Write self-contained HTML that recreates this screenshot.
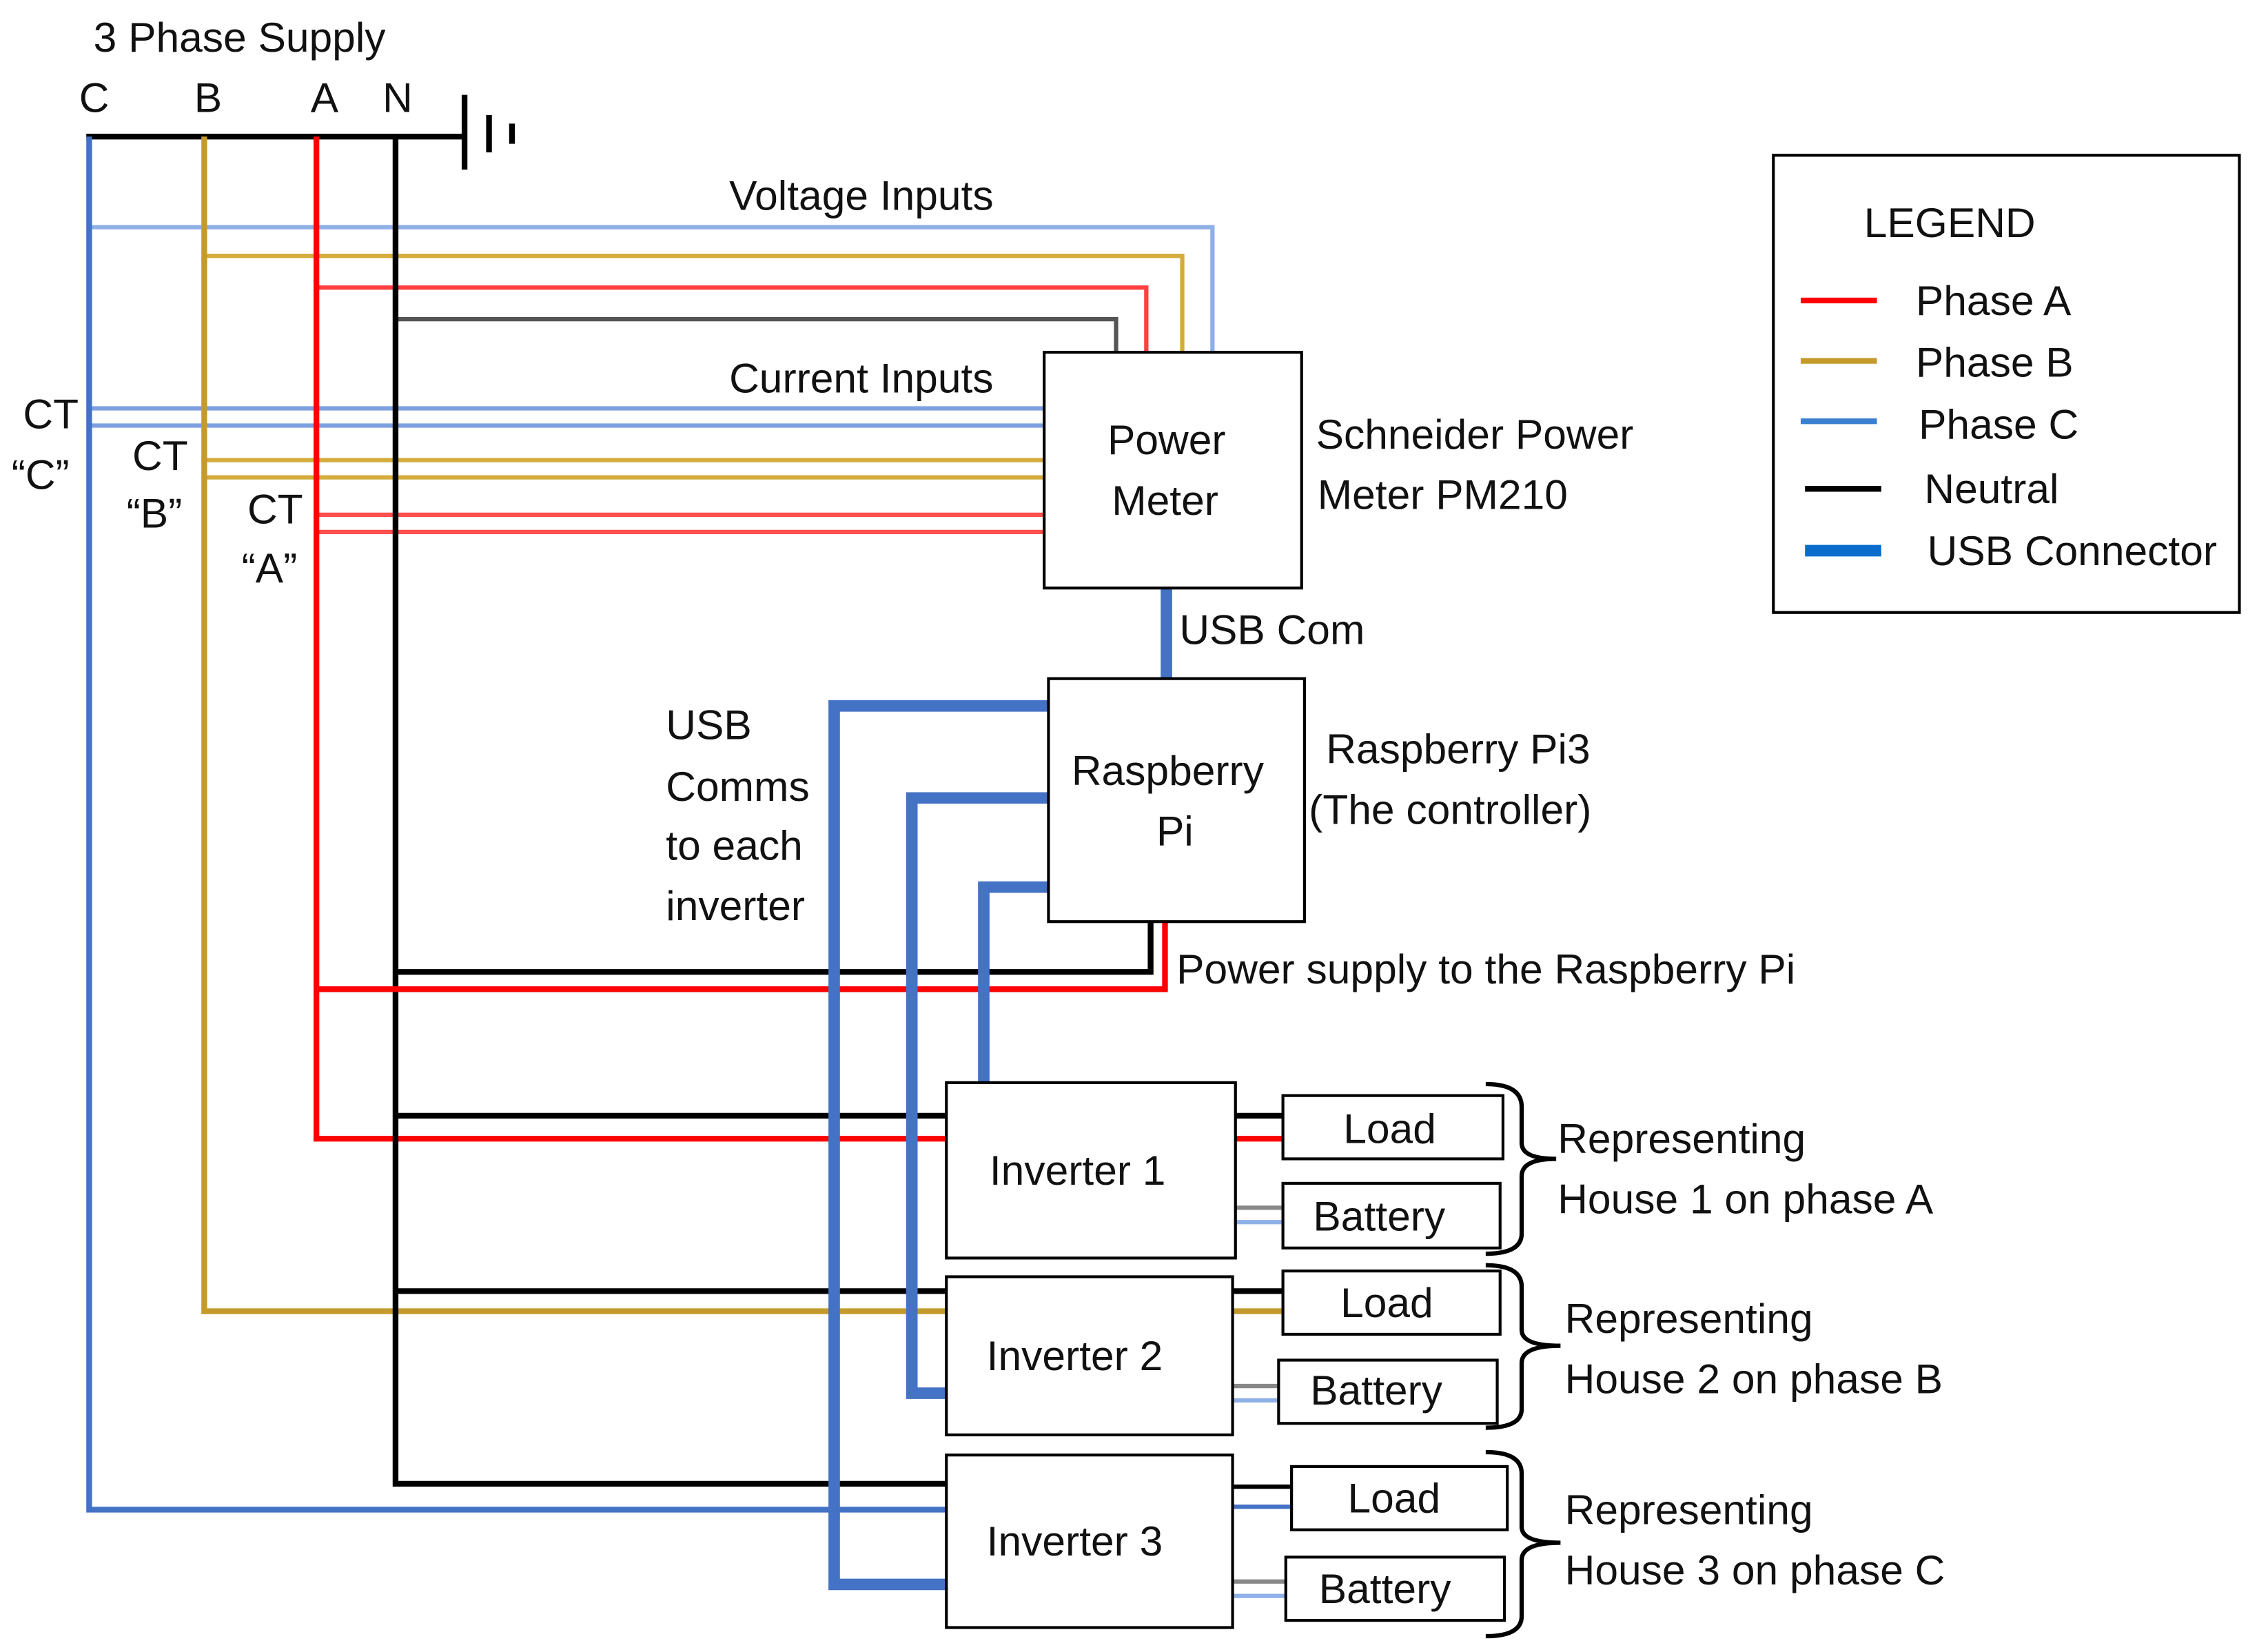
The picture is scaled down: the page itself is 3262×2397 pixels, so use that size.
<!DOCTYPE html>
<html><head><meta charset="utf-8"><style>
html,body{margin:0;padding:0;background:#fff;}
svg{display:block;}
text{font-family:"Liberation Sans",sans-serif;font-size:29px;fill:#111;}
</style></head><body>
<svg width="3262" height="2397" viewBox="0 0 1563 1149" preserveAspectRatio="none" xmlns="http://www.w3.org/2000/svg">
<rect width="1563" height="1149" fill="#fff"/>
<g fill="none" stroke-linecap="butt">
<!-- top bus -->
<line x1="60" y1="95" x2="322" y2="95" stroke="#000" stroke-width="4"/>
<line x1="323" y1="66" x2="323" y2="118" stroke="#000" stroke-width="4"/>
<line x1="340" y1="80" x2="340" y2="106" stroke="#000" stroke-width="4"/>
<line x1="356" y1="86" x2="356" y2="100" stroke="#000" stroke-width="4"/>
<!-- voltage inputs -->
<polyline points="62,158 843,158 843,245" stroke="#8fb0e6" stroke-width="3"/>
<polyline points="142,178 822,178 822,245" stroke="#d4ac3c" stroke-width="3"/>
<polyline points="220,200 797,200 797,245" stroke="#ff4040" stroke-width="3"/>
<polyline points="275,222 776,222 776,245" stroke="#555" stroke-width="3"/>
<!-- current inputs -->
<line x1="62" y1="284" x2="726" y2="284" stroke="#7fa0e0" stroke-width="3"/>
<line x1="62" y1="296" x2="726" y2="296" stroke="#7fa0e0" stroke-width="3"/>
<line x1="142" y1="320" x2="726" y2="320" stroke="#d4ac3c" stroke-width="3"/>
<line x1="142" y1="332" x2="726" y2="332" stroke="#d4ac3c" stroke-width="3"/>
<line x1="220" y1="358" x2="726" y2="358" stroke="#ff5050" stroke-width="3"/>
<line x1="220" y1="370" x2="726" y2="370" stroke="#ff5050" stroke-width="3"/>
<!-- phases -->
<polyline points="62,95 62,1050 658,1050" stroke="#4472c4" stroke-width="4"/>
<polyline points="142,95 142,912 892,912" stroke="#c49a2c" stroke-width="4"/>
<polyline points="220,95 220,792 892,792" stroke="#ff0000" stroke-width="4"/>
<polyline points="275,95 275,1032 658,1032" stroke="#000" stroke-width="4"/>
<line x1="275" y1="776" x2="892" y2="776" stroke="#000" stroke-width="4"/>
<line x1="275" y1="898" x2="892" y2="898" stroke="#000" stroke-width="4"/>
<polyline points="275,676 800,676 800,641" stroke="#000" stroke-width="4"/>
<polyline points="220,688 810,688 810,641" stroke="#ff0000" stroke-width="4"/>
<!-- inverter to battery / load 3 connectors -->
<line x1="858" y1="840" x2="892" y2="840" stroke="#888" stroke-width="3"/>
<line x1="858" y1="850" x2="892" y2="850" stroke="#8fb0e6" stroke-width="3"/>
<line x1="856" y1="964" x2="889" y2="964" stroke="#888" stroke-width="3"/>
<line x1="856" y1="974" x2="889" y2="974" stroke="#8fb0e6" stroke-width="3"/>
<line x1="856" y1="1034" x2="898" y2="1034" stroke="#000" stroke-width="3"/>
<line x1="856" y1="1048" x2="898" y2="1048" stroke="#4472c4" stroke-width="3"/>
<line x1="856" y1="1100" x2="894" y2="1100" stroke="#888" stroke-width="3"/>
<line x1="856" y1="1110" x2="894" y2="1110" stroke="#8fb0e6" stroke-width="3"/>
<!-- USB -->
<line x1="811" y1="409" x2="811" y2="472" stroke="#4472c4" stroke-width="8"/>
<polyline points="729,491 580,491 580,1102 658,1102" stroke="#4472c4" stroke-width="8"/>
<polyline points="729,555 634,555 634,969 658,969" stroke="#4472c4" stroke-width="8"/>
<polyline points="729,617 684,617 684,753" stroke="#4472c4" stroke-width="8"/>
<!-- boxes -->
<g stroke="#000" stroke-width="2" fill="#fff">
<rect x="726" y="245" width="179" height="164"/>
<rect x="729" y="472" width="178" height="169"/>
<rect x="658" y="753" width="201" height="122"/>
<rect x="658" y="888" width="199" height="110"/>
<rect x="658" y="1012" width="199" height="120"/>
<rect x="892" y="762" width="153" height="44"/>
<rect x="892" y="823" width="151" height="45"/>
<rect x="892" y="884" width="151" height="44"/>
<rect x="889" y="946" width="152" height="44"/>
<rect x="898" y="1020" width="150" height="44"/>
<rect x="894" y="1083" width="152" height="44"/>
<rect x="1233" y="108" width="324" height="318"/>
</g>
<!-- braces -->
<g stroke="#000" stroke-width="3">
<path d="M1033,754 Q1058,754 1058,770 L1058,795 Q1058,806 1082,806 Q1058,806 1058,818 L1058,858 Q1058,872 1033,872"/>
<path d="M1033,880 Q1058,880 1058,895 L1058,925 Q1058,936 1085,936 Q1058,936 1058,948 L1058,980 Q1058,993 1033,993"/>
<path d="M1033,1010 Q1058,1010 1058,1025 L1058,1062 Q1058,1073 1085,1073 Q1058,1073 1058,1085 L1058,1124 Q1058,1138 1033,1138"/>
</g>
<!-- legend lines -->
<line x1="1252" y1="209" x2="1305" y2="209" stroke="#ff0000" stroke-width="4"/>
<line x1="1252" y1="251" x2="1305" y2="251" stroke="#c49a2c" stroke-width="4"/>
<line x1="1252" y1="293" x2="1305" y2="293" stroke="#3a7fd0" stroke-width="4"/>
<line x1="1255" y1="340" x2="1308" y2="340" stroke="#000" stroke-width="4"/>
<line x1="1255" y1="383" x2="1308" y2="383" stroke="#0a6ccc" stroke-width="8"/>
</g>
<text x="65" y="36">3 Phase Supply</text>
<text x="55" y="78">C</text><text x="135" y="78">B</text><text x="216" y="78">A</text><text x="266" y="78">N</text>
<text x="507" y="146">Voltage Inputs</text>
<text x="507" y="273">Current Inputs</text>
<text x="16" y="298">CT</text><text x="8" y="340">“C”</text>
<text x="92" y="327">CT</text><text x="88" y="367">“B”</text>
<text x="172" y="364">CT</text><text x="168" y="405">“A”</text>
<text x="770" y="316">Power</text><text x="773" y="358">Meter</text>
<text x="915" y="312">Schneider Power</text><text x="916" y="354">Meter  PM210</text>
<text x="820" y="448">USB Com</text>
<text x="745" y="546">Raspberry</text><text x="804" y="588">Pi</text>
<text x="922" y="531">Raspberry Pi3</text><text x="910" y="573">(The controller)</text>
<text x="463" y="514">USB</text><text x="463" y="557">Comms</text><text x="463" y="598">to each</text><text x="463" y="640">inverter</text>
<text x="818" y="684">Power supply to the Raspberry Pi</text>
<text x="688" y="824">Inverter 1</text><text x="686" y="953">Inverter 2</text><text x="686" y="1082">Inverter 3</text>
<text x="934" y="795">Load</text><text x="913" y="856">Battery</text>
<text x="932" y="916">Load</text><text x="911" y="977">Battery</text>
<text x="937" y="1052">Load</text><text x="917" y="1115">Battery</text>
<text x="1083" y="802">Representing</text><text x="1083" y="844">House 1 on phase A</text>
<text x="1088" y="927">Representing</text><text x="1088" y="969">House 2 on phase B</text>
<text x="1088" y="1060">Representing</text><text x="1088" y="1102">House 3 on phase C</text>
<text x="1296" y="165">LEGEND</text>
<text x="1332" y="219">Phase A</text><text x="1332" y="262">Phase B</text><text x="1334" y="305">Phase C</text>
<text x="1338" y="350">Neutral</text><text x="1340" y="393">USB Connector</text>
</svg>
</body></html>
